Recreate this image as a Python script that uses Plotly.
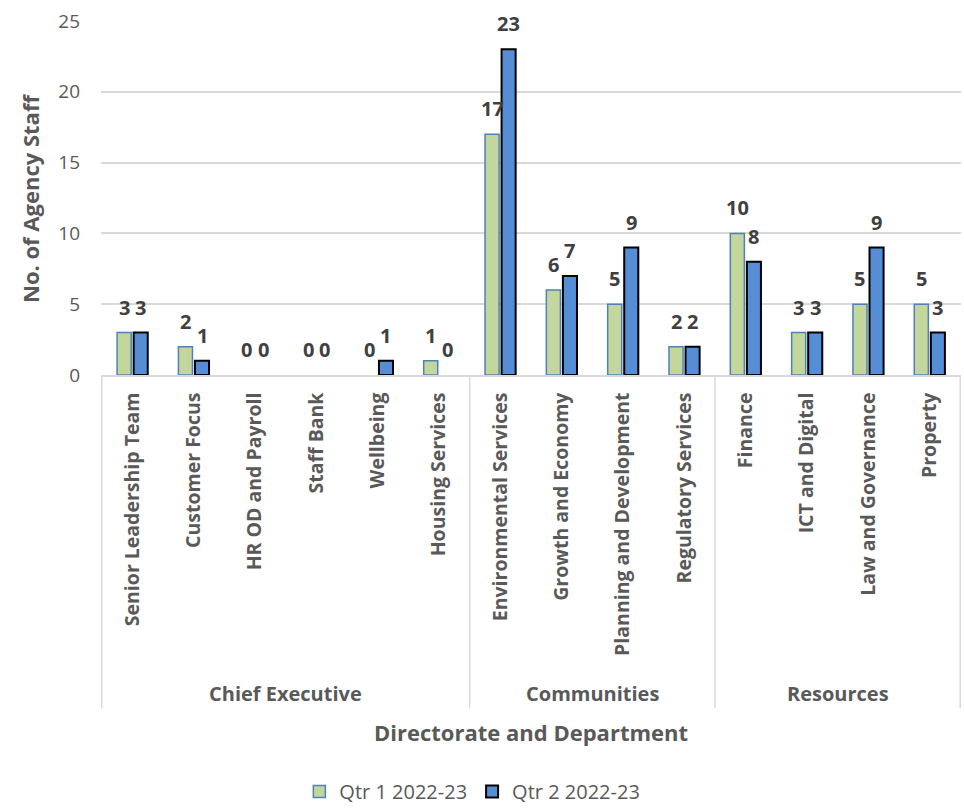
import plotly.graph_objects as go

# Departments (inner axis level) and their directorates (outer level)
departments = [
    "Senior Leadership Team", "Customer Focus", "HR OD and Payroll", "Staff Bank",
    "Wellbeing", "Housing Services",
    "Environmental Services", "Growth and Economy", "Planning and Development",
    "Regulatory Services",
    "Finance", "ICT and Digital", "Law and Governance", "Property",
]
directorates = ["Chief Executive", "Communities", "Resources"]
directorate_sizes = [6, 4, 4]

series_names = ["Qtr 1 2022-23", "Qtr 2 2022-23"]
qtr1 = [3, 2, 0, 0, 0, 1, 17, 6, 5, 2, 10, 3, 5, 5]
qtr2 = [3, 1, 0, 0, 1, 0, 23, 7, 9, 2, 8, 3, 9, 3]

y_ticks = [0, 5, 10, 15, 20, 25]

FONT = "Open Sans"
TXT = "#595959"
LBL = "#404040"
GRID = "#D9D9D9"

W, H = 964, 811
M_L, M_R, M_T, M_B = 101, 3, 21, 436
plot_w = W - M_L - M_R
plot_h = H - M_T - M_B
BARGAP = 0.46
BARGROUPGAP = 0.15


def outline(vals, width):
    # no outline on empty bars so a zero shows nothing
    return [width if v else 0 for v in vals]


fig = go.Figure()
fig.add_trace(go.Bar(
    x=departments, y=qtr1, name=series_names[0],
    marker=dict(color="#C3D69B", line=dict(color="#4F81BD", width=outline(qtr1, 1.5))),
))
fig.add_trace(go.Bar(
    x=departments, y=qtr2, name=series_names[1],
    marker=dict(color="#558ED5", line=dict(color="#000000", width=outline(qtr2, 2))),
))

# value labels above each bar
cat_px = plot_w / len(departments)
shift = cat_px * (1 - BARGAP) / 4
annotations = []
for vals, dx in ((qtr1, -shift), (qtr2, shift)):
    for dep, v in zip(departments, vals):
        annotations.append(dict(
            x=dep, y=v, xref="x", yref="y", text=f"<b>{v}</b>",
            showarrow=False, xshift=dx, yshift=10, yanchor="bottom",
            font=dict(family=FONT, size=20, color=LBL),
        ))


def py(px_y):
    """convert a pixel row in the page to paper y"""
    return (H - M_B - px_y) / plot_h


shapes = []
start = 0
bounds = [-0.5]
for name, n in zip(directorates, directorate_sizes):
    centre = start + (n - 1) / 2
    annotations.append(dict(
        x=centre, y=py(693), xref="x", yref="paper", text=f"<b>{name}</b>",
        showarrow=False, yanchor="middle",
        font=dict(family=FONT, size=20, color=TXT),
    ))
    start += n
    bounds.append(start - 0.5)
for b in bounds:
    shapes.append(dict(type="line", xref="x", yref="paper", x0=b, x1=b,
                       y0=0, y1=py(708), line=dict(color=GRID, width=1.5)))

annotations.append(dict(
    x=0.5, y=py(732), xref="paper", yref="paper",
    text="<b>Directorate and Department</b>", showarrow=False, yanchor="middle",
    font=dict(family=FONT, size=22, color=TXT),
))
annotations.append(dict(
    x=(30 - M_L) / plot_w, y=0.5, xref="paper", yref="paper",
    text="<b>No. of Agency Staff</b>", showarrow=False, textangle=-90,
    xanchor="center", yanchor="middle",
    font=dict(family=FONT, size=22, color=TXT),
))

fig.update_layout(
    width=W, height=H,
    margin=dict(l=M_L, r=M_R, t=M_T, b=M_B, autoexpand=False),
    paper_bgcolor="white", plot_bgcolor="white",
    barmode="group", bargap=BARGAP, bargroupgap=BARGROUPGAP,
    font=dict(family=FONT, color=TXT),
    showlegend=True,
    legend=dict(
        orientation="h", xref="container", yref="container",
        x=0.49, xanchor="center", y=-0.012, yanchor="bottom",
        font=dict(family=FONT, size=20, color=TXT),
        itemwidth=30, traceorder="normal",
    ),
    annotations=annotations,
    shapes=shapes,
)
fig.update_xaxes(
    type="category", tickangle=-90, showgrid=False,
    showline=True, linecolor=GRID, linewidth=1.5,
    ticks="", ticklabelstandoff=8,
    tickfont=dict(family=FONT, size=19.5, color=TXT),
    tickprefix="<b>", ticksuffix="</b>",
)
fig.update_yaxes(
    range=[0, 25], tickvals=y_ticks, showgrid=True, gridcolor=GRID, gridwidth=1.5,
    zeroline=False, showline=False, ticks="", ticklabelstandoff=20,
    tickfont=dict(family=FONT, size=19, color=TXT),
)

fig.write_html("out.html")
